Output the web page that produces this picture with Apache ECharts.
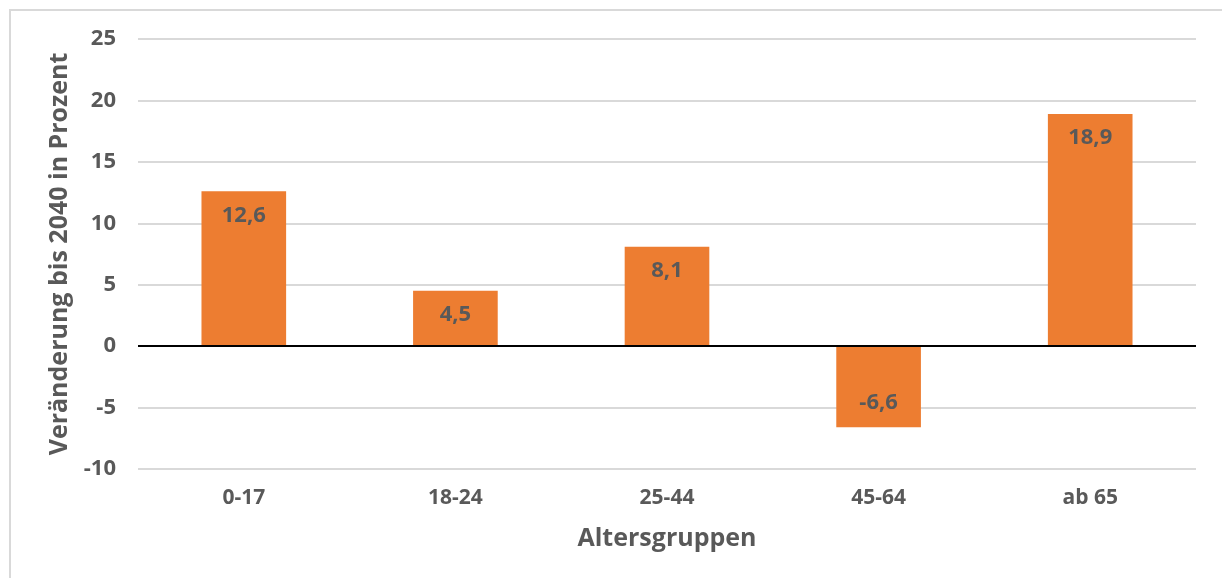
<!DOCTYPE html>
<html><head><meta charset="utf-8">
<script src="https://cdn.jsdelivr.net/npm/echarts@6/dist/echarts.min.js"></script>
<style>
html,body{margin:0;padding:0;background:#fff;}
#frame{position:absolute;left:9px;top:9px;width:1300px;height:700px;border-left:2px solid #d9d9d9;border-top:2px solid #d9d9d9;}
#c{position:absolute;left:0;top:0;width:1222px;height:578px;}
</style></head>
<body>
<div id="frame"></div>
<div id="c"></div>
<script>
const categories = ['0-17', '18-24', '25-44', '45-64', 'ab 65'];
const values = [12.6, 4.5, 8.1, -6.6, 18.9];
const yTicks = { min: -10, max: 25, interval: 5 };
const yTitle = 'Veränderung bis 2040 in Prozent';
const xTitle = 'Altersgruppen';

const txt = '#595959';
const font = "'Open Sans', 'Noto Sans', sans-serif";
const chart = echarts.init(document.getElementById('c'), null, {renderer: 'canvas'});
chart.setOption({
  animation: false,
  backgroundColor: 'transparent',
  grid: { left: 138, right: 26, top: 39, bottom: 109 },
  xAxis: {
    type: 'category', data: categories,
    axisLine: { show: false, onZero: false }, axisTick: { show: false },
    axisLabel: { color: txt, fontSize: 21, fontWeight: 'bold', fontFamily: font, margin: 19 },
    name: xTitle, nameLocation: 'middle', nameGap: 57,
    nameTextStyle: { color: txt, fontSize: 25, fontWeight: 'bold', fontFamily: font }
  },
  yAxis: {
    type: 'value', min: yTicks.min, max: yTicks.max, interval: yTicks.interval,
    axisLine: { show: false }, axisTick: { show: false },
    splitLine: { lineStyle: { color: '#d9d9d9', width: 2 } },
    axisLabel: { color: txt, fontSize: 22, fontWeight: 'bold', fontFamily: font, margin: 22 },
    name: yTitle, nameLocation: 'middle', nameGap: 64, nameRotate: 90,
    nameTextStyle: { color: txt, fontSize: 25, fontWeight: 'bold', fontFamily: font }
  },
  series: [{
    type: 'bar', barWidth: '40%',
    itemStyle: { color: '#ED7D31' },
    data: values.map(v => ({
      value: v,
      label: { position: v < 0 ? 'insideBottom' : 'insideTop' }
    })),
    label: {
      show: true, distance: 13, color: txt, fontSize: 22, fontWeight: 'bold', fontFamily: font,
      formatter: p => String(p.value).replace('.', ',')
    },
    markLine: {
      silent: true, symbol: 'none', label: { show: false },
      lineStyle: { color: '#000', width: 2, type: 'solid' },
      data: [{ yAxis: 0 }]
    }
  }]
});
</script>
</body></html>
